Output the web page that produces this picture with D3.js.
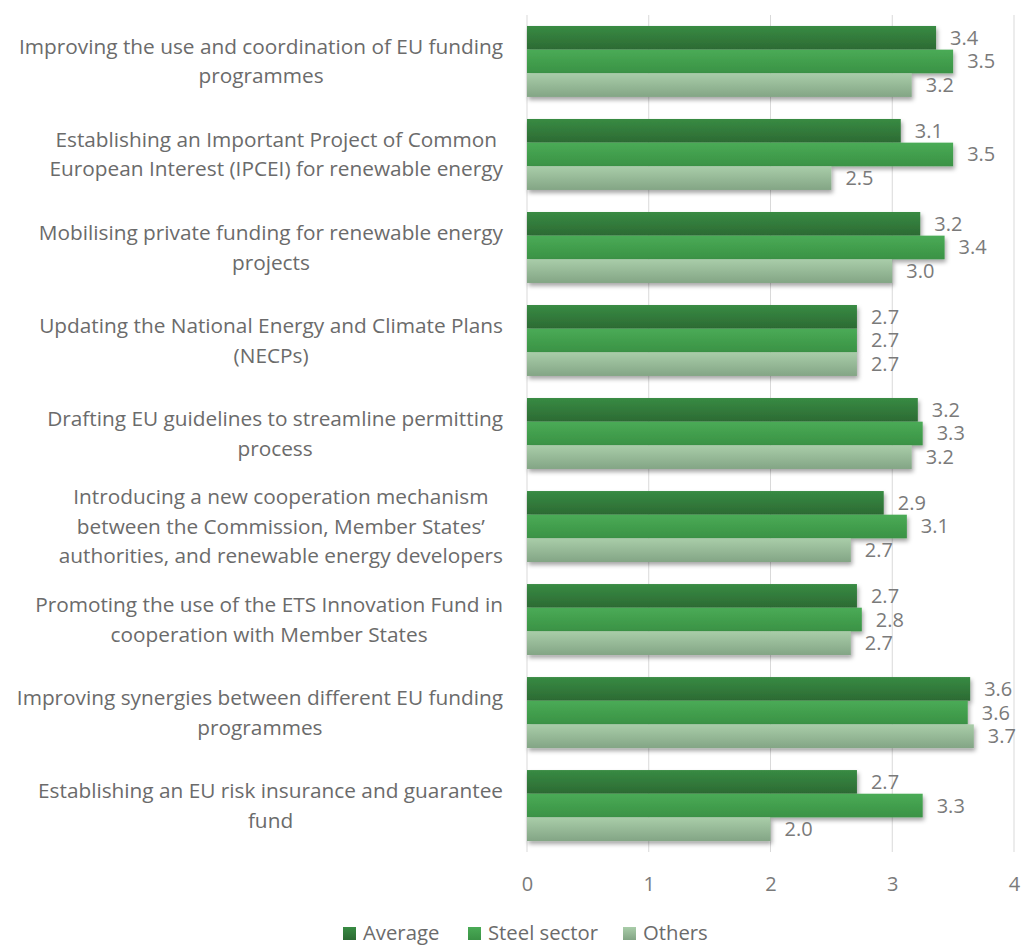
<!DOCTYPE html>
<html><head><meta charset="utf-8">
<script src="https://cdn.jsdelivr.net/npm/d3@7"></script>
<style>body{margin:0;background:#fff}svg{display:block}text{font-family:"Open Sans",sans-serif}</style>
</head><body><svg id="c" width="1021" height="945"></svg>
<script>
const categories = [
  ["Improving the use and coordination of EU funding","programmes"],
  ["Establishing an Important Project of Common","European Interest (IPCEI) for renewable energy"],
  ["Mobilising private funding for renewable energy","projects"],
  ["Updating the National Energy and Climate Plans","(NECPs)"],
  ["Drafting EU guidelines to streamline permitting","process"],
  ["Introducing a new cooperation mechanism","between the Commission, Member States’","authorities, and renewable energy developers"],
  ["Promoting the use of the ETS Innovation Fund in","cooperation with Member States"],
  ["Improving synergies between different EU funding","programmes"],
  ["Establishing an EU risk insurance and guarantee","fund"]
];
const seriesNames = ["Average","Steel sector","Others"];
const average = [3.36,3.07,3.23,2.71,3.21,2.93,2.71,3.64,2.71];
const steel   = [3.50,3.50,3.43,2.71,3.25,3.12,2.75,3.62,3.25];
const others  = [3.16,2.50,3.00,2.71,3.16,2.66,2.66,3.67,2.00];
const xTicks = [0,1,2,3,4];
const colors = [["#388b43","#2c6a33"],["#4aab56","#3a9245"],["#a9cda9","#83a585"]];

const series = [average, steel, others];
const svg = d3.select("#c");
const x = d3.scaleLinear().domain([0,4]).range([527,1014]);
const y = d3.scaleBand().domain(d3.range(categories.length)).range([15,852]).paddingInner(0.237).paddingOuter(0.118);
const yi = d3.scaleBand().domain(d3.range(3)).range([0,y.bandwidth()]);

const defs = svg.append("defs");
colors.forEach((c,i)=>{
  const g = defs.append("linearGradient").attr("id","g"+i).attr("x1",0).attr("y1",0).attr("x2",0).attr("y2",1);
  g.append("stop").attr("offset","0%").attr("stop-color",c[0]);
  g.append("stop").attr("offset","100%").attr("stop-color",c[1]);
});
const f = defs.append("filter").attr("id","sh").attr("x","-5%").attr("y","-30%").attr("width","115%").attr("height","180%");
f.append("feDropShadow").attr("dx",1.5).attr("dy",3).attr("stdDeviation",2).attr("flood-color","#000").attr("flood-opacity",0.35);

// gridlines
svg.append("g").selectAll("line").data(xTicks).join("line")
  .attr("x1",d=>x(d)).attr("x2",d=>x(d)).attr("y1",15).attr("y2",852)
  .attr("stroke","#d9d9d9").attr("stroke-width",1);

// axis tick labels
const ax = svg.append("g").attr("transform","translate(0,884)").call(d3.axisBottom(x).tickValues(xTicks).tickFormat(d3.format("d")).tickSize(0).tickPadding(0));
ax.select(".domain").remove();
ax.selectAll("text").attr("font-size",20).attr("fill","#7a7a7a").attr("dy","0.35em").attr("font-family","Open Sans");

// bars
categories.forEach((cat,ci)=>{
  const g = svg.append("g").attr("transform",`translate(0,${y(ci)})`);
  series.forEach((s,si)=>{
    g.append("rect").attr("x",x(0)).attr("y",yi(si)).attr("width",x(s[ci])-x(0)).attr("height",yi.bandwidth())
      .attr("fill",`url(#g${si})`).attr("filter","url(#sh)");
  });
  series.forEach((s,si)=>{
    g.append("text").attr("x",x(s[ci])+14).attr("y",yi(si)+yi.bandwidth()/2).attr("dy","0.35em")
      .attr("font-size",20).attr("fill","#7a7a7a").text(d3.format(".1f")(s[ci]));
  });
  // category label
  const lh = 29.5;
  const cy = y(ci)+y.bandwidth()/2;
  const t = svg.append("text").attr("font-size",20.8).attr("fill","#6b6b6b").attr("text-anchor","middle");
  cat.forEach((line,li)=>{
    t.append("tspan").attr("y",cy+(li-(cat.length-1)/2)*lh).attr("dy","0.35em").text(line);
  });
  let maxW = 0;
  t.selectAll("tspan").each(function(){maxW=Math.max(maxW,this.getComputedTextLength());});
  t.selectAll("tspan").attr("x",503-maxW/2);
});

// legend
const leg = svg.append("g").attr("transform","translate(0,933)");
const lx = [343,468,623];
seriesNames.forEach((n,i)=>{
  leg.append("rect").attr("x",lx[i]).attr("y",-6).attr("width",13).attr("height",13).attr("fill",`url(#g${i})`);
  leg.append("text").attr("x",lx[i]+20).attr("y",0).attr("dy","0.35em").attr("font-size",20.3).attr("fill","#6b6b6b").text(n);
});
</script></body></html>
